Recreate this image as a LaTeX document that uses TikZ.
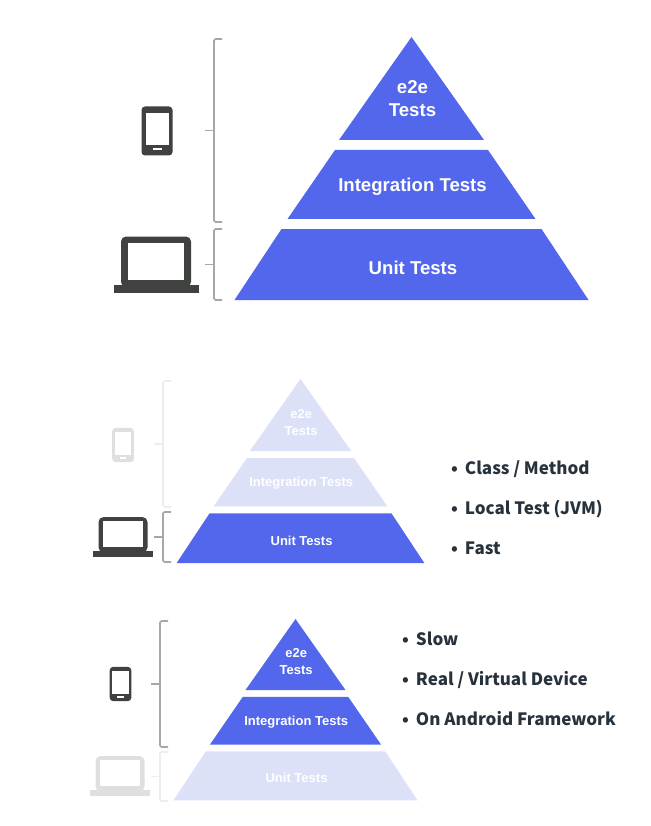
\documentclass[tikz,border=0pt]{standalone}
\usepackage{fontspec}
\setmainfont{Liberation Sans}
\newfontfamily\notefont{Noto Sans CJK KR}
\tikzset{>=stealth}
\definecolor{testblue}{RGB}{82,103,236}
\definecolor{fadeblue}{RGB}{220,225,248}
\definecolor{icondark}{RGB}{63,66,62}
\definecolor{iconfade}{RGB}{222,224,222}
\definecolor{bracketdark}{RGB}{165,168,165}
\definecolor{bracketfade}{RGB}{236,238,236}
\definecolor{notetext}{RGB}{40,50,60}
\tikzset{
  layertext/.style={text=white, align=center, inner sep=0pt},
  notelabel/.style={text=notetext, anchor=base west, inner sep=0pt, font=\notefont\bfseries\fontsize{17}{20}\selectfont},
}

% one pyramid, apex at the origin: e2e, integration and unit layers
\newcommand{\testpyramid}[4]{
  \fill [#1] (0,0) -- (72.5,103) -- (-72.5,103) -- cycle;
  \fill [#2] (-76.5,113) -- (76.5,113) -- (124,182) -- (-124,182) -- cycle;
  \fill [#3] (-130,192) -- (130,192) -- (177,263) -- (-177,263) -- cycle;
  \node [layertext, font=#4] (e2e) at (1,62) {e2e\\[3pt]Tests};
  \node [layertext, font=#4] (integration) at (1,149.5) {Integration Tests};
  \node [layertext, font=#4] (unit) at (1.5,230.5) {Unit Tests};
}
% phone icon, centered on the origin
\newcommand{\phoneicon}[1]{
  \fill [#1, rounded corners=3.5] (-15.5,-24.5) rectangle (15.5,24.5);
  \fill [white] (-11.5,-18) rectangle (11.5,14);
  \fill [white] (-4.5,17.5) rectangle (4.5,19.5);
}
% laptop icon, centered on the origin
\newcommand{\laptopicon}[1]{
  \fill [#1, rounded corners=5] (-35,-28.5) rectangle (35,22);
  \fill [white] (-28,-22.5) rectangle (28,14.5);
  \fill [#1] (-42.5,20) rectangle (42.5,28);
}
% bracket from top to bottom, with its tick at mid height
\newcommand{\testbracket}[4]{
  \draw [#1, line width=1.7pt, rounded corners=1.5] (#2+8,#3) -- (#2,#3) -- (#2,#4) -- (#2+8,#4);
  \draw [#1, line width=1.7pt] (#2,{(#3+#4)/2}) -- (#2-9,{(#3+#4)/2});
}

\begin{document}
\begin{tikzpicture}[x=1pt,y=-1pt]
\useasboundingbox (0,0) rectangle (650,826);
\fill [white] (0,0) rectangle (650,826);

% top picture
\begin{scope}[shift={(411.5,37)}, name prefix=top-]
  \testpyramid{testblue}{testblue}{testblue}{\bfseries\fontsize{18.6}{20}\selectfont}
\end{scope}
\begin{scope}[shift={(157,131)}]
  \phoneicon{icondark}
\end{scope}
\begin{scope}[shift={(156,265)}]
  \laptopicon{icondark}
\end{scope}
\testbracket{bracketdark}{214}{39}{222}
\testbracket{bracketdark}{214}{229}{300}

% middle picture
\begin{scope}[shift={(300.5,379)}, scale=0.7, name prefix=mid-]
  \testpyramid{fadeblue}{fadeblue}{testblue}{\bfseries\fontsize{13}{14}\selectfont}
\end{scope}
\begin{scope}[shift={(123,445)}, scale=0.7]
  \phoneicon{iconfade}
\end{scope}
\begin{scope}[shift={(123,537)}, scale=0.7]
  \laptopicon{icondark}
\end{scope}
\testbracket{bracketfade}{163}{381}{507}
\testbracket{bracketdark}{163}{512}{562}
\node [notelabel] (class) at (451,474) {•\hspace{7pt}Class / Method};
\node [notelabel] (local) at (451,514) {•\hspace{7pt}Local Test (JVM)};
\node [notelabel] (fast) at (451,554.5) {•\hspace{7pt}Fast};

% bottom picture
\begin{scope}[shift={(295.5,619)}, scale=0.69, name prefix=low-]
  \testpyramid{testblue}{testblue}{fadeblue}{\bfseries\fontsize{13}{14}\selectfont}
\end{scope}
\begin{scope}[shift={(120.5,684)}, scale=0.7]
  \phoneicon{icondark}
\end{scope}
\begin{scope}[shift={(120,776)}, scale=0.7]
  \laptopicon{iconfade}
\end{scope}
\testbracket{bracketdark}{160}{621}{747}
\testbracket{bracketfade}{160}{752}{801}
\node [notelabel] (slow) at (402,645) {•\hspace{7pt}Slow};
\node [notelabel] (device) at (402,685) {•\hspace{7pt}Real / Virtual Device};
\node [notelabel] (android) at (402,725) {•\hspace{7pt}On Android Framework};
\end{tikzpicture}
\end{document}
